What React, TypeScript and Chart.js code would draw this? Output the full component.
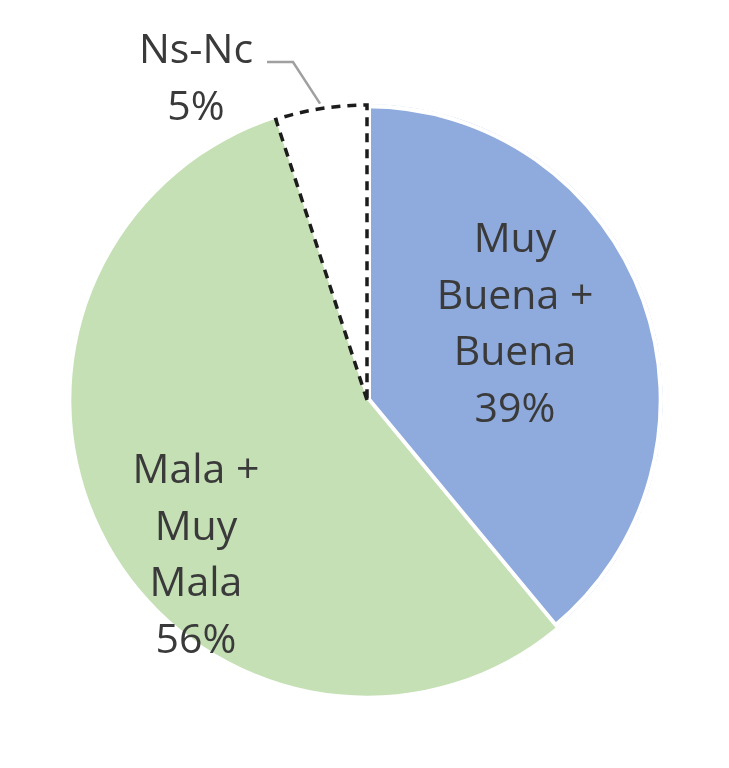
import React, { useEffect, useRef } from "react";
import { Chart, registerables } from "chart.js";

Chart.register(...registerables);

const categories = ["Muy Buena + Buena", "Mala + Muy Mala", "Ns-Nc"];
const values = [39, 56, 5];
const labelLines = [
  ["Muy", "Buena +", "Buena", "39%"],
  ["Mala +", "Muy", "Mala", "56%"],
  ["Ns-Nc", "5%"],
];
const colors = ["#8FAADC", "#C5E0B4", "#FFFFFF"];

const FONT = '41px "Open Sans", "DejaVu Sans", sans-serif';
const TEXT_COLOR = "#3a3a3a";

const overlayPlugin = {
  id: "overlay",
  afterDatasetsDraw(chart: any) {
    const ctx = chart.ctx;
    const meta = chart.getDatasetMeta(0);
    const arc = meta.data[2];
    const { x, y, startAngle, endAngle, outerRadius } = arc.getProps(
      ["x", "y", "startAngle", "endAngle", "outerRadius"],
      true
    );
    // dashed outline of Ns-Nc slice
    ctx.save();
    ctx.strokeStyle = "#1c1c1c";
    ctx.lineWidth = 3.5;
    ctx.setLineDash([9, 7]);
    ctx.beginPath();
    ctx.moveTo(x, y);
    ctx.arc(x, y, outerRadius - 1, startAngle, endAngle);
    ctx.closePath();
    ctx.stroke();
    ctx.restore();

    // leader line
    const mid = (startAngle + endAngle) / 2;
    const px = x + Math.cos(mid) * (outerRadius + 4);
    const py = y + Math.sin(mid) * (outerRadius + 4);
    ctx.save();
    ctx.strokeStyle = "#a0a0a0";
    ctx.lineWidth = 2.5;
    ctx.beginPath();
    ctx.moveTo(x - 100, y - 338);
    ctx.lineTo(x - 74, y - 338);
    ctx.lineTo(px, py);
    ctx.stroke();
    ctx.restore();

    // labels
    const anchors = [
      { dx: 148, top: -148 },
      { dx: -171, top: 83 },
      { dx: -171, top: -337 },
    ];
    const lineH = [56.5, 56.5, 57];
    ctx.save();
    ctx.font = FONT;
    ctx.fillStyle = TEXT_COLOR;
    ctx.textAlign = "center";
    ctx.textBaseline = "alphabetic";
    labelLines.forEach((lines, i) => {
      lines.forEach((t, j) => {
        ctx.fillText(t, x + anchors[i].dx, y + anchors[i].top + j * lineH[i]);
      });
    });
    ctx.restore();
  },
};

export default function App() {
  const ref = useRef<HTMLCanvasElement>(null);
  useEffect(() => {
    if (!ref.current) return;
    const chart = new Chart(ref.current, {
      type: "pie",
      data: {
        labels: categories,
        datasets: [
          {
            data: values,
            backgroundColor: colors,
            borderColor: ["#FFFFFF", "#FFFFFF", "#FFFFFF"],
            borderWidth: [4, 0, 0],
            borderAlign: "inner",
          } as any,
        ],
      },
      options: {
        responsive: false,
        animation: false,
        radius: 296,
        layout: { padding: { top: 32, bottom: 0, left: 5, right: 0 } },
        plugins: {
          legend: { display: false },
          tooltip: { enabled: false },
        },
      } as any,
      plugins: [overlayPlugin],
    });
    return () => chart.destroy();
  }, []);
  return (
    <div style={{ position: "fixed", left: 0, top: 0, width: 729, height: 768, background: "#fff" }}>
      <canvas ref={ref} width={729} height={768} />
    </div>
  );
}
